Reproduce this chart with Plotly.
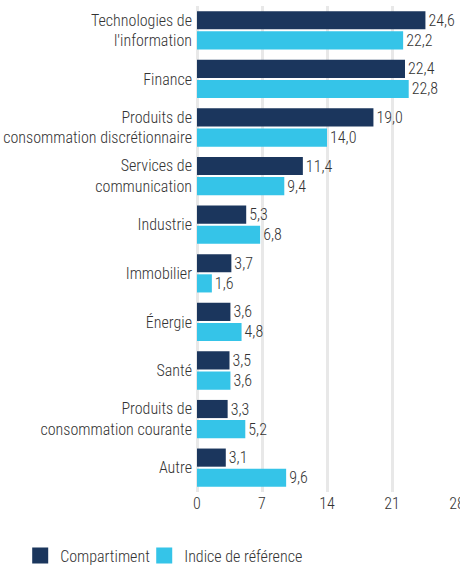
import plotly.graph_objects as go

categories = [
    "Technologies de<br>l'information",
    "Finance",
    "Produits de<br>consommation discrétionnaire",
    "Services de<br>communication",
    "Industrie",
    "Immobilier",
    "Énergie",
    "Santé",
    "Produits de<br>consommation courante",
    "Autre",
]
compartiment = [24.6, 22.4, 19.0, 11.4, 5.3, 3.7, 3.6, 3.5, 3.3, 3.1]
indice = [22.2, 22.8, 14.0, 9.4, 6.8, 1.6, 4.8, 3.6, 5.2, 9.6]
series_names = ["Compartiment", "Indice de référence"]
tick_vals = [0, 7, 14, 21, 28]

FONT = "Roboto Condensed"
W = 300
TXT = "#333333"
COLORS = ["#1b365d", "#35c4e8"]

def fmt(v):
    return f"{v:.1f}".replace(".", ",")

fig = go.Figure()
for name, vals, col, leg in [
    (series_names[0], compartiment, COLORS[0], "legend"),
    (series_names[1], indice, COLORS[1], "legend2"),
]:
    fig.add_trace(go.Bar(
        y=categories, x=vals, name=name, orientation="h",
        marker=dict(color=col, line=dict(width=0)),
        text=[fmt(v) for v in vals], textposition="outside",
        textfont=dict(family=FONT, size=16, color=TXT, weight=W),
        constraintext="none", cliponaxis=False, showlegend=False,
    ))
    # legend entry with a larger square swatch
    fig.add_trace(go.Scatter(
        x=[None], y=[None], mode="markers", name=name, legend=leg,
        marker=dict(symbol="square", size=16, color=col), showlegend=True,
    ))

legend_common = dict(orientation="h", xanchor="left", y=-0.096, yanchor="top",
                     font=dict(family=FONT, size=16, color=TXT, weight=W),
                     bgcolor="rgba(0,0,0,0)", itemwidth=30)
fig.update_layout(
    width=460, height=565,
    margin=dict(l=197, r=3, t=6, b=73, autoexpand=False),
    paper_bgcolor="white", plot_bgcolor="white",
    barmode="group", bargap=0.17, bargroupgap=0.1,
    font=dict(family=FONT, size=16, color=TXT, weight=W),
    legend=dict(x=-0.68, **legend_common),
    legend2=dict(x=-0.203, **legend_common),
)
fig.update_xaxes(range=[0, 28], tickvals=tick_vals, ticktext=[str(t) for t in tick_vals],
                 showgrid=True, gridcolor="#e8e8e8", gridwidth=3,
                 zeroline=True, zerolinecolor="#e8e8e8", zerolinewidth=3,
                 showline=False, ticks="", automargin=False, ticklabeloverflow="allow",
                 tickfont=dict(family=FONT, size=16, color=TXT, weight=W))
fig.update_yaxes(autorange="reversed", showgrid=False, ticks="", showline=False,
                 automargin=False, ticklabelstandoff=4,
                 tickfont=dict(family=FONT, size=16, color=TXT, weight=W))

fig.write_html("out.html")
